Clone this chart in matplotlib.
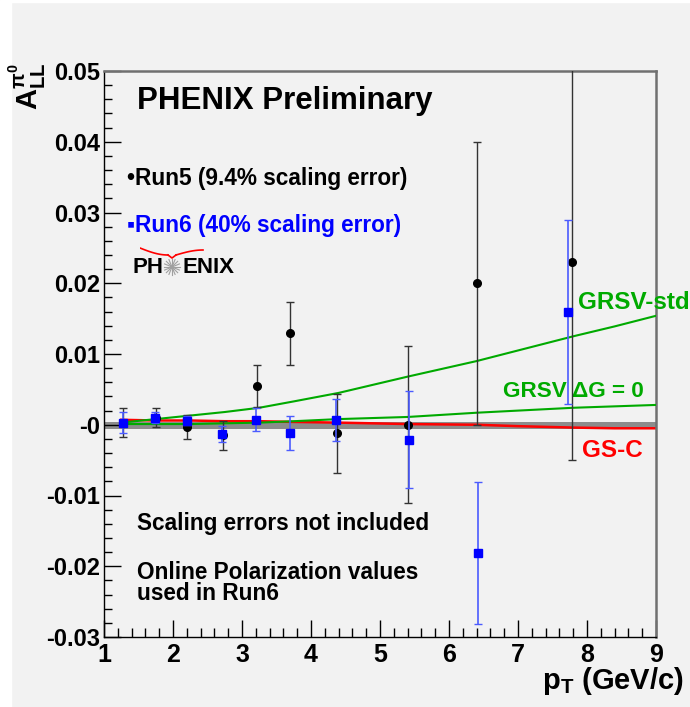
import matplotlib
matplotlib.use("Agg")
import matplotlib.pyplot as plt
from matplotlib.patches import Rectangle
from matplotlib.ticker import MultipleLocator, FixedLocator
import numpy as np

# ---- data ----
run5_pt = [1.27, 1.75, 2.2, 2.72, 3.22, 3.7, 4.38, 5.4, 6.4, 7.78]
run5_all = [0.0003, 0.0010, -0.0003, -0.0015, 0.0055, 0.0129, -0.0012, 0.0000, 0.0200, 0.0230]
run5_err = [0.0020, 0.0013, 0.0017, 0.0020, 0.0030, 0.0045, 0.0056, 0.0111, 0.0200, 0.0280]

run6_pt = [1.28, 1.74, 2.2, 2.71, 3.2, 3.7, 4.36, 5.42, 6.42, 7.72]
run6_all = [0.0003, 0.0010, 0.0006, -0.0013, 0.0007, -0.0012, 0.0007, -0.0021, -0.0181, 0.0160]
run6_err = [0.0015, 0.0008, 0.0007, 0.0011, 0.0016, 0.0024, 0.0030, 0.0068, 0.0100, 0.0130]

theory_pt = [1.25, 1.75, 2.25, 2.75, 3.25, 3.75, 4.4, 5.4, 6.4, 7.0, 7.8, 8.4, 9.0]
grsv_std = [0.0003, 0.0008, 0.0013, 0.0018, 0.0024, 0.0033, 0.0045, 0.0068, 0.0090, 0.0105, 0.0125, 0.0139, 0.0154]
grsv_zero = [0.0001, 0.0001, 0.0001, 0.0002, 0.0003, 0.0005, 0.0008, 0.0011, 0.0017, 0.0020, 0.0024, 0.0026, 0.0028]
gs_c = [0.0007, 0.0006, 0.0006, 0.0005, 0.0005, 0.0004, 0.0003, 0.0001, 0.0000, -0.0002, -0.0004, -0.0005, -0.0005]

band_pt = [1.0, 9.0]
band_lo = [-0.00055, -0.00055]
band_hi = [0.00045, 0.00045]

yticks = [-0.03, -0.02, -0.01, 0.0, 0.01, 0.02, 0.03, 0.04, 0.05]
ytick_labels = ["-0.03", "-0.02", "-0.01", "-0", "0.01", "0.02", "0.03", "0.04", "0.05"]
xticks = [1, 2, 3, 4, 5, 6, 7, 8, 9]

BG = "#f2f2f2"
GREEN = "#00aa00"
RED = "#ff0000"
BLUE = "#0000ff"
BLUE_BAR = "#4b5bff"

plt.rcParams.update({
    "font.family": ["Liberation Sans", "DejaVu Sans"],
    "font.weight": "bold",
    "mathtext.fontset": "custom",
    "mathtext.rm": "Liberation Sans:bold",
    "mathtext.it": "Liberation Sans:bold",
    "mathtext.bf": "Liberation Sans:bold",
})

W, H = 690, 707
fig = plt.figure(figsize=(W / 100, H / 100), dpi=100, facecolor=BG)
fig.patches.append(Rectangle((0, 0), 11 / W, 1, transform=fig.transFigure,
                             color="white", zorder=0))
fig.patches.append(Rectangle((0, 1 - 2 / H), 1, 2 / H, transform=fig.transFigure,
                             color="white", zorder=0))

ax = fig.add_axes([104 / W, 1 - 637 / H, (656 - 104) / W, (637 - 71) / H])
ax.set_facecolor(BG)
ax.set_xlim(1, 9)
ax.set_ylim(-0.03, 0.05)

# systematic band and theory curves
ax.fill_between(band_pt, band_lo, band_hi, color="#8c8c8c", lw=0, zorder=1)
ax.plot(theory_pt, gs_c, color=RED, lw=1.8, zorder=2)
ax.plot(theory_pt, grsv_zero, color=GREEN, lw=1.5, zorder=3)
ax.plot(theory_pt, grsv_std, color=GREEN, lw=1.5, zorder=3)

# data
ax.errorbar(run5_pt, run5_all, yerr=run5_err, fmt="o", color="black",
            ecolor="#333333", elinewidth=1.0, capsize=3, capthick=1.0,
            markersize=5.5, zorder=4)
ax.errorbar(run6_pt, run6_all, yerr=run6_err, fmt="s", color=BLUE,
            ecolor=BLUE_BAR, elinewidth=1.2, capsize=3, capthick=1.0,
            markersize=5.5, zorder=5)

# axes styling
ax.yaxis.set_major_locator(FixedLocator(yticks))
ax.set_yticklabels(ytick_labels)
ax.yaxis.set_minor_locator(MultipleLocator(0.002))
ax.xaxis.set_major_locator(FixedLocator(xticks))
ax.xaxis.set_minor_locator(MultipleLocator(0.2))
ax.tick_params(which="both", direction="in", top=False, right=False, color="black")
ax.tick_params(axis="y", which="major", length=12, width=1, labelsize=17, pad=3)
ax.tick_params(axis="y", which="minor", length=6, width=1)
ax.tick_params(axis="x", which="major", length=12, width=1, labelsize=18, pad=4)
ax.tick_params(axis="x", which="minor", length=6.5, width=1)
for lab in ax.get_xticklabels() + ax.get_yticklabels():
    lab.set_fontweight("bold")
ax.spines["left"].set_color("black")
ax.spines["bottom"].set_color("black")
ax.spines["left"].set_linewidth(1.0)
ax.spines["bottom"].set_linewidth(1.0)
for s in ("top", "right"):
    ax.spines[s].set_color("#707070")
    ax.spines[s].set_linewidth(1.8)

# annotations
ax.text(1.478, 0.0457, "PHENIX Preliminary", fontsize=22.5, fontweight="bold",
        va="center", ha="left")
ax.text(1.33, 0.0348, "\u2022Run5 (9.4% scaling error)", fontsize=16.3,
        fontweight="bold", va="center", ha="left", color="black")
ax.text(1.33, 0.0281, "\u25aaRun6 (40% scaling error)", fontsize=16.3,
        fontweight="bold", va="center", ha="left", color=BLUE)
ax.text(7.87, 0.01724, "GRSV-std", fontsize=17.5, fontweight="bold",
        va="center", ha="left", color=GREEN)
ax.text(6.78, 0.00466, "GRSV \u0394G = 0", fontsize=16.2, fontweight="bold",
        va="center", ha="left", color=GREEN)
ax.text(7.93, -0.00367, "GS-C", fontsize=17.5, fontweight="bold",
        va="center", ha="left", color=RED)
ax.text(1.478, -0.0140, "Scaling errors not included", fontsize=16.3,
        fontweight="bold", va="center", ha="left")
ax.text(1.478, -0.02233, "Online Polarization values\nused in Run6", fontsize=16.3,
        fontweight="bold", va="center", ha="left", linespacing=0.88)

# PHENIX logo
ax.text(1.42, 0.0222, "PH", fontsize=16, fontweight="bold", va="center", ha="left")
ax.text(2.14, 0.0222, "ENIX", fontsize=16, fontweight="bold", va="center", ha="left")
logo = fig.add_axes([140 / W, 1 - 278 / H, 64 / W, 32 / H])
logo.set_xlim(0, 64)
logo.set_ylim(32, 0)
logo.axis("off")
for ang in np.linspace(0, np.pi, 8, endpoint=False):
    dx, dy = 8 * np.cos(ang), 8 * np.sin(ang)
    logo.plot([32 - dx, 32 + dx], [21 - dy, 21 + dy], color="#a0a0a0", lw=0.8)
t = np.linspace(0, 1, 30)
logo.plot(0 + 28 * t, 2 + 7 * np.sin(t * np.pi / 2), color=RED, lw=1.2)
logo.plot([28, 32, 36], [9, 12, 9], color=RED, lw=1.2)
logo.plot(36 + 27 * t, 9 - 5 * np.sin(t * np.pi / 2), color=RED, lw=1.2)

# axis titles
fig.text(27 / W, 1 - 62 / H, r"$\mathbf{A}_{\mathbf{LL}}^{\pi^{0}}$", fontsize=21,
         rotation=90, ha="center", va="top")
fig.text(684 / W, 1 - 697 / H, r"$\mathbf{p}_{\mathbf{T}}$ (GeV/c)", fontsize=21,
         fontweight="bold", ha="right", va="bottom")

fig.savefig("out.png", dpi=100, facecolor=BG)
